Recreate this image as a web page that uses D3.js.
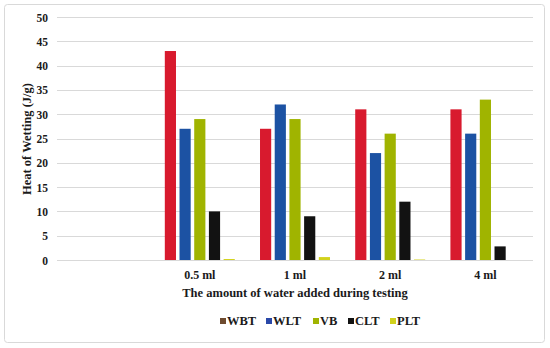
<!DOCTYPE html>
<html>
<head>
<meta charset="utf-8">
<style>
    body { margin: 0; background: #fff; }
    svg text { font-family: "Liberation Serif", "Times New Roman", serif; font-weight: bold; fill: #1a1a1a; }
    .grid line { stroke: #d9d9d9; stroke-width: 1; }
    .axis path, .axis line { display: none; }
</style>
<title>Heat of Wetting</title>
</head>
<body>
<svg id="chart"></svg>
<script src="https://cdn.jsdelivr.net/npm/d3@7"></script>
<script>
    // data
    var categories = ['', '0.5 ml', '1 ml', '2 ml', '4 ml'];
    var seriesNames = ['WBT', 'WLT', 'VB', 'CLT', 'PLT'];
    var WBT = [null, 43, 27, 31, 31];
    var WLT = [null, 27, 32, 22, 26];
    var VB  = [null, 29, 29, 26, 33];
    var CLT = [null, 10, 9, 12, 2.8];
    var PLT = [null, 0.2, 0.6, 0.1, 0];
    var yTicks = [0, 5, 10, 15, 20, 25, 30, 35, 40, 45, 50];

    var barColors = { WBT: '#d81a2e', WLT: '#1c52a3', VB: '#a0b400', CLT: '#121212', PLT: '#d2d21c' };
    var legendColors = { WBT: '#6e4b30', WLT: '#2a48a8', VB: '#a0b400', CLT: '#121212', PLT: '#d2d21c' };

    var values = { WBT: WBT, WLT: WLT, VB: VB, CLT: CLT, PLT: PLT };
    var rows = categories.map(function (c, i) {
        return { cat: c, bars: seriesNames.map(function (s) { return { key: s, v: values[s][i] }; }) };
    });

    var W = 550, H = 348;
    var svg = d3.select('#chart').attr('width', W).attr('height', H);

    svg.append('rect')
        .attr('x', 4.5).attr('y', 4.5).attr('width', 540).attr('height', 338)
        .attr('rx', 3)
        .attr('fill', 'none').attr('stroke', '#d9d9d9');

    var x0 = d3.scaleBand().domain(categories).range([57, 533])
        .paddingInner(0.265).paddingOuter(0.1325);
    var x1 = d3.scaleBand().domain(seriesNames).range([0, x0.bandwidth()])
        .paddingInner(0.24);
    var y = d3.scaleLinear().domain([0, 50]).range([260, 17]);

    // grid
    svg.append('g').attr('class', 'grid')
        .selectAll('line').data(yTicks).enter().append('line')
        .attr('x1', 57).attr('x2', 533)
        .attr('y1', function (d) { return Math.round(y(d)) + 0.5; })
        .attr('y2', function (d) { return Math.round(y(d)) + 0.5; });

    // y axis labels
    var yAxis = d3.axisLeft(y).tickValues(yTicks).tickSize(0).tickPadding(0);
    svg.append('g').attr('class', 'axis')
        .attr('transform', 'translate(48,0)')
        .call(yAxis)
        .selectAll('text').style('font-size', '11.5px').attr('dy', '0.35em');

    // x axis labels
    var xAxis = d3.axisBottom(x0).tickSize(0).tickPadding(10);
    svg.append('g').attr('class', 'axis')
        .attr('transform', 'translate(0,260)')
        .call(xAxis)
        .selectAll('text').style('font-size', '12px');

    // bars
    var groups = svg.append('g').selectAll('g').data(rows).enter().append('g')
        .attr('transform', function (d) { return 'translate(' + x0(d.cat) + ',0)'; });

    groups.selectAll('rect')
        .data(function (d) { return d.bars.filter(function (b) { return b.v !== null && b.v > 0; }); })
        .enter().append('rect')
        .attr('x', function (b) { return x1(b.key); })
        .attr('width', x1.bandwidth())
        .attr('y', function (b) { return y(b.v); })
        .attr('height', function (b) { return y(0) - y(b.v); })
        .attr('fill', function (b) { return barColors[b.key]; });

    // titles
    svg.append('text')
        .attr('transform', 'translate(31,139) rotate(-90)')
        .attr('text-anchor', 'middle')
        .style('font-size', '12.5px')
        .text('Heat of Wetting (J/g)');

    svg.append('text')
        .attr('x', 295).attr('y', 297)
        .attr('text-anchor', 'middle')
        .style('font-size', '12.5px')
        .text('The amount of water added during testing');

    // legend
    var legendX = [220, 266, 313, 348, 390];
    var legend = svg.append('g').selectAll('g').data(seriesNames).enter().append('g')
        .attr('transform', function (d, i) { return 'translate(' + legendX[i] + ',321)'; });
    legend.append('rect')
        .attr('x', 0).attr('y', -3).attr('width', 6).attr('height', 6)
        .attr('fill', function (d) { return legendColors[d]; });
    legend.append('text')
        .attr('x', 7).attr('y', 0).attr('dy', '0.35em')
        .style('font-size', '12.5px')
        .text(function (d) { return d; });
</script>
</body>
</html>
